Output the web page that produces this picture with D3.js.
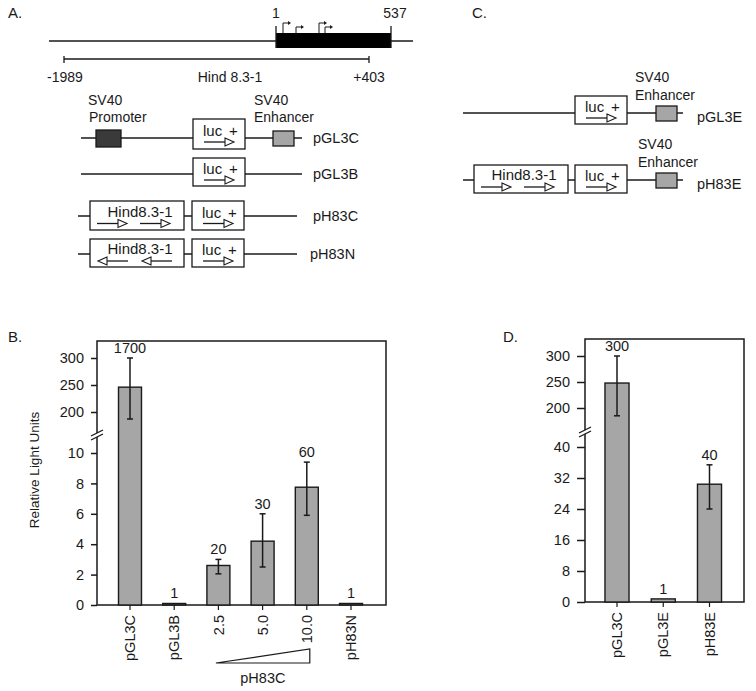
<!DOCTYPE html>
<html>
<head>
<meta charset="utf-8">
<script src="https://cdn.jsdelivr.net/npm/d3@7"></script>
<style>
  body { margin: 0; background: #fff; }
  svg { font-family: "Liberation Sans", Arial, Helvetica, sans-serif; }
  text { fill: #1a1a1a; }
</style>
</head>
<body>
<script>
// ---- data: panel B ----
var catsB = ["pGL3C", "pGL3B", "2.5", "5.0", "10.0", "pH83N"];
var meanB = [246, 0.1, 2.6, 4.2, 7.75, 0.1];
var errLoB = [187, null, 2.05, 2.5, 5.9, null];
var errHiB = [300, null, 3.0, 6.0, 9.4, null];
var foldB = ["1700", "1", "20", "30", "60", "1"];
var ticksLowB = [0, 2, 4, 6, 8, 10];
var ticksHighB = [200, 250, 300];

// ---- data: panel D ----
var catsD = ["pGL3C", "pGL3E", "pH83E"];
var meanD = [248, 0.8, 30.4];
var errLoD = [185, null, 24];
var errHiD = [300, null, 35.4];
var foldD = ["300", "1", "40"];
var ticksLowD = [0, 8, 16, 24, 32, 40];
var ticksHighD = [200, 250, 300];

// ---- constructs (panels A and C) ----
var constructsA = ["pGL3C", "pGL3B", "pH83C", "pH83N"];
var constructsC = ["pGL3E", "pH83E"];
var mapLabels = ["-1989", "Hind 8.3-1", "+403"];
var exonLabels = ["1", "537"];

var W = 756, H = 691;
var svg = d3.select("body").append("svg")
    .attr("width", W).attr("height", H);

var ink = "#1a1a1a", barFill = "#a6a6a6", dark = "#3a3a3a";

function txt(x, y, s, size, anchor) {
  return svg.append("text").attr("x", x).attr("y", y)
    .attr("font-size", size || 14)
    .attr("text-anchor", anchor || "start")
    .text(s);
}
function hline(x1, x2, y, w) {
  svg.append("line").attr("x1", x1).attr("x2", x2).attr("y1", y).attr("y2", y)
    .attr("stroke", ink).attr("stroke-width", w || 1.5);
}
function box(x1, x2, y1, y2, fill) {
  svg.append("rect").attr("x", x1).attr("y", y1)
    .attr("width", x2 - x1).attr("height", y2 - y1)
    .attr("fill", fill || "#fff").attr("stroke", ink).attr("stroke-width", 1.3);
}
// open headed arrow, pointing to x2
function arrow(x1, x2, y) {
  var d = x2 > x1 ? 1 : -1;
  svg.append("line").attr("x1", x1).attr("x2", x2 - d * 8).attr("y1", y).attr("y2", y)
    .attr("stroke", ink).attr("stroke-width", 1.3);
  svg.append("path")
    .attr("d", "M" + (x2 - d * 9) + "," + (y - 4) + "L" + x2 + "," + y + "L" + (x2 - d * 9) + "," + (y + 4) + "Z")
    .attr("fill", "#fff").attr("stroke", ink).attr("stroke-width", 1.1);
}
function lucBox(x1, y1, y2) {
  box(x1, x1 + 52, y1, y2);
  var my = (y1 + y2) / 2;
  txt(x1 + 10, my + 2, "luc", 15);
  txt(x1 + 36, my + 2, "+", 15);
  arrow(x1 + 11, x1 + 41, my + 8);
}
function hindBox(x1, y1, y2, reverse) {
  box(x1, x1 + 94, y1, y2);
  var my = (y1 + y2) / 2;
  txt(x1 + 50, my + 1, "Hind8.3-1", 15, "middle");
  if (!reverse) {
    arrow(x1 + 7, x1 + 37, my + 8);
    arrow(x1 + 50, x1 + 80, my + 8);
  } else {
    arrow(x1 + 38, x1 + 8, my + 8);
    arrow(x1 + 82, x1 + 52, my + 8);
  }
}

// ================= Panel A =================
txt(8, 18, "A.", 15);
hline(49, 413, 41);
svg.append("rect").attr("x", 276).attr("y", 33).attr("width", 115).attr("height", 15).attr("fill", "#000");
[276, 391].forEach(function (x) {
  svg.append("line").attr("x1", x).attr("x2", x).attr("y1", 26).attr("y2", 48)
    .attr("stroke", ink).attr("stroke-width", 1.3);
});
txt(276, 18, exonLabels[0], 14, "middle");
txt(395, 18, exonLabels[1], 14, "middle");
// transcription start arrows
[[283, 23], [296, 27], [319, 23], [325, 27]].forEach(function (p) {
  svg.append("path").attr("d", "M" + p[0] + ",33V" + p[1] + "H" + (p[0] + 5))
    .attr("fill", "none").attr("stroke", ink).attr("stroke-width", 1);
  svg.append("path").attr("d", "M" + (p[0] + 5) + "," + (p[1] - 2) + "L" + (p[0] + 8) + "," + p[1] + "L" + (p[0] + 5) + "," + (p[1] + 2) + "Z")
    .attr("fill", ink);
});
hline(64, 369, 59, 1.3);
[64, 369].forEach(function (x) {
  svg.append("line").attr("x1", x).attr("x2", x).attr("y1", 56).attr("y2", 63)
    .attr("stroke", ink).attr("stroke-width", 1.3);
});
txt(65, 82, mapLabels[0], 14, "middle");
txt(230, 82, mapLabels[1], 14, "middle");
txt(369, 82, mapLabels[2], 14, "middle");

txt(88, 105, "SV40", 14);
txt(89, 122, "Promoter", 14);
txt(254, 105, "SV40", 14);
txt(254, 122, "Enhancer", 14);

// pGL3C
hline(81, 302, 138);
box(96, 121, 130, 147, dark);
lucBox(193, 119, 149);
box(273, 294, 131, 146, barFill);
txt(313, 143, constructsA[0], 14.5);
// pGL3B
hline(81, 302, 174);
lucBox(193, 158, 186);
txt(313, 179, constructsA[1], 14.5);
// pH83C
hline(78, 297, 216);
hindBox(90, 201, 230, false);
lucBox(192, 201, 230);
txt(313, 221, constructsA[2], 14.5);
// pH83N
hline(78, 297, 254);
hindBox(90, 239, 267, true);
lucBox(192, 239, 267);
txt(310, 259, constructsA[3], 14.5);

// ================= Panel C =================
txt(472, 18, "C.", 15);
txt(635, 82, "SV40", 14);
txt(635, 100, "Enhancer", 14);
hline(463, 683, 113);
lucBox(575, 96, 124);
box(656, 677, 106, 121, barFill);
txt(697, 122, constructsC[0], 14.5);

txt(638, 149, "SV40", 14);
txt(638, 167, "Enhancer", 14);
hline(463, 683, 180);
hindBox(474, 165, 193, false);
lucBox(575, 165, 193);
box(656, 677, 173, 188, barFill);
txt(697, 189, constructsC[1], 14.5);

// ================= bar charts =================
function barChart(o) {
  var g = svg.append("g");
  var x = d3.scaleBand().domain(o.cats)
      .range([o.c0 - o.step / 2, o.c1 + o.step / 2])
      .paddingInner(0.48).paddingOuter(0.24);
  var yLow = d3.scaleLinear().domain(o.lowDom).range([o.y0, o.lowTop]);
  var yHigh = d3.scaleLinear().domain(o.highDom).range([o.highBot, o.highTop]);
  var y = function (v) { return v > o.lowDom[1] ? yHigh(v) : yLow(v); };

  // frame
  g.append("rect").attr("x", o.left).attr("y", o.top)
    .attr("width", o.right - o.left).attr("height", o.y0 - o.top)
    .attr("fill", "none").attr("stroke", ink).attr("stroke-width", 1.5);

  // y axes (two segments)
  var axL = g.append("g").attr("transform", "translate(" + o.left + ",0)")
    .call(d3.axisLeft(yLow).tickValues(o.ticksLow).tickSize(o.tick).tickPadding(7).tickFormat(d3.format("d")));
  var axH = g.append("g").attr("transform", "translate(" + o.left + ",0)")
    .call(d3.axisLeft(yHigh).tickValues(o.ticksHigh).tickSize(o.tick).tickPadding(7).tickFormat(d3.format("d")));
  [axL, axH].forEach(function (a) {
    a.select(".domain").remove();
    a.selectAll("line").attr("stroke", ink).attr("stroke-width", 1.5);
    a.selectAll("text").attr("font-size", 14.5).attr("fill", ink)
      .attr("font-family", "Liberation Sans, Arial, sans-serif");
  });

  // bottom axis ticks + labels
  var axB = g.append("g").attr("transform", "translate(0," + o.y0 + ")")
    .call(d3.axisBottom(x).tickSize(5).tickPadding(0));
  axB.select(".domain").remove();
  axB.selectAll("line").attr("stroke", ink).attr("stroke-width", 1.2);
  axB.selectAll("text").attr("font-size", 14.5).attr("fill", ink)
    .attr("font-family", "Liberation Sans, Arial, sans-serif")
    .attr("text-anchor", "end")
    .attr("transform", "translate(0,10) rotate(-90)")
    .attr("x", 0).attr("y", 0).attr("dy", "0.36em");

  // bars
  var rows = o.cats.map(function (c, i) {
    return { c: c, v: o.mean[i], lo: o.lo[i], hi: o.hi[i], f: o.fold[i] };
  });
  g.selectAll(".bar").data(rows).enter().append("rect")
    .attr("x", function (d) { return x(d.c); })
    .attr("width", x.bandwidth())
    .attr("y", function (d) { return y(d.v); })
    .attr("height", function (d) { return o.y0 - y(d.v); })
    .attr("fill", barFill).attr("stroke", ink).attr("stroke-width", 1.4);

  // error bars
  var eb = rows.filter(function (d) { return d.hi != null; });
  eb.forEach(function (d) {
    var cx = x(d.c) + x.bandwidth() / 2;
    g.append("line").attr("x1", cx).attr("x2", cx).attr("y1", y(d.lo)).attr("y2", y(d.hi))
      .attr("stroke", ink).attr("stroke-width", 1.5);
    [d.lo, d.hi].forEach(function (v) {
      g.append("line").attr("x1", cx - 3).attr("x2", cx + 3).attr("y1", y(v)).attr("y2", y(v))
        .attr("stroke", ink).attr("stroke-width", 1.5);
    });
  });

  // fold labels
  g.selectAll(".fold").data(rows).enter().append("text")
    .attr("x", function (d) { return x(d.c) + x.bandwidth() / 2; })
    .attr("y", function (d) { return (d.hi != null ? y(d.hi) : y(d.v)) - 5; })
    .attr("text-anchor", "middle").attr("font-size", 14.5)
    .text(function (d) { return d.f; });

  // axis break marks
  var by = o.breakY;
  g.append("path")
    .attr("d", "M" + (o.left - 6) + "," + (by + 1) + "L" + (o.left + 6) + "," + (by - 5) +
               "L" + (o.left + 6) + "," + (by - 1) + "L" + (o.left - 6) + "," + (by + 5) + "Z")
    .attr("fill", "#fff");
  [[1, -5], [5, -1]].forEach(function (p) {
    g.append("line").attr("x1", o.left - 6).attr("y1", by + p[0]).attr("x2", o.left + 6).attr("y2", by + p[1])
      .attr("stroke", ink).attr("stroke-width", 1.3);
  });
  return x;
}

// Panel B
txt(8, 342, "B.", 15);
var xB = barChart({
  cats: catsB, mean: meanB, lo: errLoB, hi: errHiB, fold: foldB,
  ticksLow: ticksLowB, ticksHigh: ticksHighB,
  lowDom: [0, 10], highDom: [200, 300],
  left: 97, right: 386, top: 341, y0: 605,
  lowTop: 453, highBot: 412, highTop: 358,
  c0: 130, c1: 351, step: 44.2, tick: 6, breakY: 435
});
svg.append("text").attr("transform", "translate(39,470) rotate(-90)")
  .attr("text-anchor", "middle").attr("font-size", 13.5).text("Relative Light Units");
// dose wedge
var wx0 = xB("2.5") + 9, wx1 = xB("10.0") + xB.bandwidth() / 2 + 3;
svg.append("path").attr("d", "M" + wx0 + ",663L" + wx1 + ",649L" + wx1 + ",663Z")
  .attr("fill", "#fff").attr("stroke", ink).attr("stroke-width", 1.2);
txt((wx0 + wx1) / 2, 683, "pH83C", 14.5, "middle");

// Panel D
txt(503, 342, "D.", 15);
barChart({
  cats: catsD, mean: meanD, lo: errLoD, hi: errHiD, fold: foldD,
  ticksLow: ticksLowD, ticksHigh: ticksHighD,
  lowDom: [0, 40], highDom: [200, 300],
  left: 585, right: 744, top: 339, y0: 602,
  lowTop: 447, highBot: 408, highTop: 356,
  c0: 617, c1: 709.5, step: 46.25, tick: 8, breakY: 432
});
</script>
</body>
</html>
